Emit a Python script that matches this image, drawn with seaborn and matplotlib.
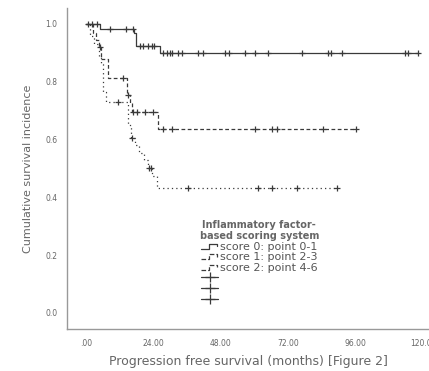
import numpy as np
import pandas as pd
import matplotlib
matplotlib.use("Agg")
import matplotlib.pyplot as plt
import seaborn as sns
from matplotlib.lines import Line2D
from matplotlib.legend_handler import HandlerBase

# Kaplan-Meier steps: (time in months, survival after step)
s0_times = [0, 5.0, 17.0, 17.8, 26.3]
s0_surv = [1.0, 0.983, 0.97, 0.923, 0.898]
s0_end = 118.3
s0_cens = [0.8, 3.8, 8.5, 14.2, 16.6, 19.2, 20.4, 22.2, 23.4, 24.2, 27.3, 28.7,
           29.9, 30.8, 32.9, 34.1, 40.0, 41.8, 49.5, 51.0, 56.6, 60.1, 64.9,
           76.8, 86.2, 87.4, 91.0, 113.5, 114.7, 118.3]

s1_times = [0, 2.5, 3.5, 4.5, 5.5, 7.8, 14.5, 15.5, 16.3, 25.5]
s1_surv = [1.0, 0.97, 0.945, 0.92, 0.88, 0.812, 0.755, 0.725, 0.697, 0.638]
s1_end = 96.3
s1_cens = [2.0, 5.0, 13.3, 15.0, 16.8, 18.0, 21.0, 24.0, 27.5, 30.5, 60.1,
           66.1, 67.9, 84.5, 96.3]

s2_times = [0, 1.5, 3.0, 4.5, 5.5, 6.2, 7.0, 15.0, 16.0, 17.5, 19.0, 20.5,
            22.0, 23.5, 25.2]
s2_surv = [1.0, 0.96, 0.93, 0.89, 0.86, 0.765, 0.73, 0.65, 0.605, 0.58, 0.555,
           0.53, 0.50, 0.475, 0.431]
s2_end = 89.5
s2_cens = [11.5, 16.5, 22.5, 23.3, 36.4, 61.3, 66.1, 75.0, 89.5]

labels = ["score 0: point 0-1", "score 1: point 2-3", "score 2: point 4-6"]
x_ticks = [0, 24, 48, 72, 96, 120]
x_ticklabels = [".00", "24.00", "48.00", "72.00", "96.00", "120.00"]
y_ticks = [0.0, 0.2, 0.4, 0.6, 0.8, 1.0]

groups = [(s0_times, s0_surv, s0_end, s0_cens),
          (s1_times, s1_surv, s1_end, s1_cens),
          (s2_times, s2_surv, s2_end, s2_cens)]
styles = ["-", (0, (3, 2)), (0, (1, 2.5))]
ink = "#3a3a3a"
txt = "#666666"

sns.set_style("white")
plt.rcParams['font.family'] = ['DejaVu Sans']

fig = plt.figure(figsize=(4.29, 3.71), dpi=100)
ax = fig.add_axes([67 / 429, 1 - 329 / 371, 1 - 67 / 429, 321 / 371])

for (times, surv, end, cens), ls in zip(groups, styles):
    df = pd.DataFrame({"time": times + [end], "surv": surv + [surv[-1]]})
    sns.lineplot(data=df, x="time", y="surv", drawstyle="steps-post",
                 color=ink, linewidth=0.9, linestyle=ls, ax=ax, sort=False)
    idx = np.searchsorted(times, cens, side="right") - 1
    cdf = pd.DataFrame({"time": cens, "surv": np.array(surv)[idx]})
    sns.scatterplot(data=cdf, x="time", y="surv", marker="+", s=16,
                    color=ink, linewidth=0.9, ax=ax, zorder=3)

ax.set_xlim(-19 / 2.808, 343 / 2.808)
ax.set_ylim(-16 / 289, 1 + 16 / 289)
ax.set_xticks(x_ticks)
ax.set_xticklabels(x_ticklabels)
ax.set_yticks(y_ticks)
ax.set_yticklabels([f"{v:.1f}" for v in y_ticks])
ax.tick_params(axis="both", direction="out", length=3, width=0.8,
               colors="#888888", labelsize=5.5, labelcolor=txt, pad=4)
for side in ["top", "right"]:
    ax.spines[side].set_visible(False)
for side in ["left", "bottom"]:
    ax.spines[side].set_color("#999999")
    ax.spines[side].set_linewidth(1.0)

ax.set_xlabel("Progression free survival (months) [Figure 2]", fontsize=9,
              color=txt, labelpad=5)
ax.set_ylabel("Cumulative survival incidence", fontsize=8, color=txt,
              labelpad=9)


class StepHandler(HandlerBase):
    def create_artists(self, legend, orig, xd, yd, width, height, fontsize, trans):
        xs = np.array([0, 0.45, 0.45, 0.95, 0.95]) * width - xd
        ys = np.array([0.15, 0.15, 0.75, 0.75, 0.45]) * height - yd
        line = Line2D(xs, ys, color=orig.get_color(), linestyle=orig.get_linestyle(),
                      linewidth=0.9, transform=trans)
        return [line]


handles = [Line2D([], [], color=ink, linestyle=ls) for ls in styles]
handles += [Line2D([], [], color=ink, linestyle="-", linewidth=0.9, marker="+",
                   markersize=7, markeredgewidth=0.9) for _ in range(3)]
hmap = {h: StepHandler() for h in handles[:3]}
leg = fig.legend(handles, labels + ["", "", ""], handler_map=hmap,
                 loc="upper left", bbox_to_anchor=(194 / 429, 1 - 214 / 371),
                 frameon=False, fontsize=8, handlelength=1.5, handletextpad=0.15,
                 labelspacing=0.05, borderpad=0,
                 title="Inflammatory factor-\nbased scoring system",
                 title_fontproperties={"weight": "bold", "size": 7})
leg.get_title().set_color(txt)
leg.get_title().set_multialignment("center")
for t in leg.get_texts():
    t.set_color("#555555")

fig.savefig("out.png", dpi=100)
